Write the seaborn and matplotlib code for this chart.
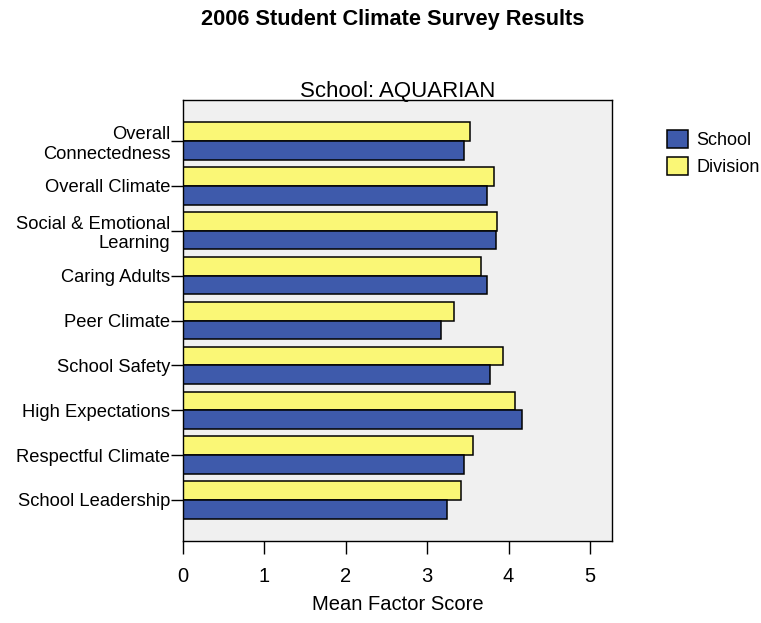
import pandas as pd
import numpy as np
import matplotlib
matplotlib.use("Agg")
import matplotlib.pyplot as plt
import seaborn as sns
from matplotlib.patches import Patch

# Data
factors = [
    "Overall\nConnectedness",
    "Overall Climate",
    "Social & Emotional\nLearning",
    "Caring Adults",
    "Peer Climate",
    "School Safety",
    "High Expectations",
    "Respectful Climate",
    "School Leadership",
]
school_scores = [3.45, 3.73, 3.84, 3.73, 3.17, 3.77, 4.16, 3.45, 3.24]
division_scores = [3.53, 3.82, 3.86, 3.66, 3.33, 3.93, 4.08, 3.56, 3.41]

school_color = "#3E5AAB"
division_color = "#FAF776"

df = pd.concat([
    pd.DataFrame({"factor": factors, "score": division_scores, "group": "Division"}),
    pd.DataFrame({"factor": factors, "score": school_scores, "group": "School"}),
])

sns.set_style("white")
plt.rcParams["font.family"] = ["Liberation Sans", "DejaVu Sans"]
plt.rcParams["text.color"] = "black"
plt.rcParams["axes.labelcolor"] = "black"

fig = plt.figure(figsize=(7.61, 6.23), dpi=100)
ax = fig.add_axes([183 / 761, 1 - 541 / 623, (612 - 183) / 761, (541 - 100) / 623])
ax.set_facecolor("#F0F0F0")

sns.barplot(data=df, y="factor", x="score", hue="group", order=factors,
            hue_order=["Division", "School"],
            palette={"Division": division_color, "School": school_color},
            orient="h", width=0.83, gap=0, saturation=1,
            edgecolor="black", linewidth=1.1, legend=False, ax=ax)

ax.set_xlim(0, 5.27)
ax.set_ylim(8.914, -0.914)
ax.set_xticks([0, 1, 2, 3, 4, 5])
ax.set_xlabel("Mean Factor Score", fontsize=14.5, labelpad=7, color="black")
ax.set_ylabel("")
ax.set_title("School: AQUARIAN", fontsize=16, pad=2, color="black")

ax.tick_params(axis="x", direction="out", length=9.5, width=1, labelsize=14.5,
               pad=9, bottom=True, colors="black")
ax.tick_params(axis="y", direction="out", length=8.5, width=1, labelsize=13.2,
               pad=0.5, left=True, colors="black")
for s in ax.spines.values():
    s.set_color("black")
    s.set_linewidth(1)
    s.set_visible(True)

fig.text(393 / 761, 1 - 20 / 623, "2006 Student Climate Survey Results",
         ha="center", va="center", fontsize=15.7, fontweight="bold", color="black")

handles = [Patch(facecolor=school_color, edgecolor="black", linewidth=1.1),
           Patch(facecolor=division_color, edgecolor="black", linewidth=1.1)]
leg = fig.legend(handles, ["School", "Division"], loc="upper left",
                 bbox_to_anchor=(667 / 761, 1 - 130 / 623), frameon=False,
                 fontsize=13, handlelength=1.17, handleheight=1.17,
                 handletextpad=0.45, labelspacing=0.45, borderpad=0, borderaxespad=0)
for t in leg.get_texts():
    t.set_color("black")

fig.savefig("out.png", dpi=100)
